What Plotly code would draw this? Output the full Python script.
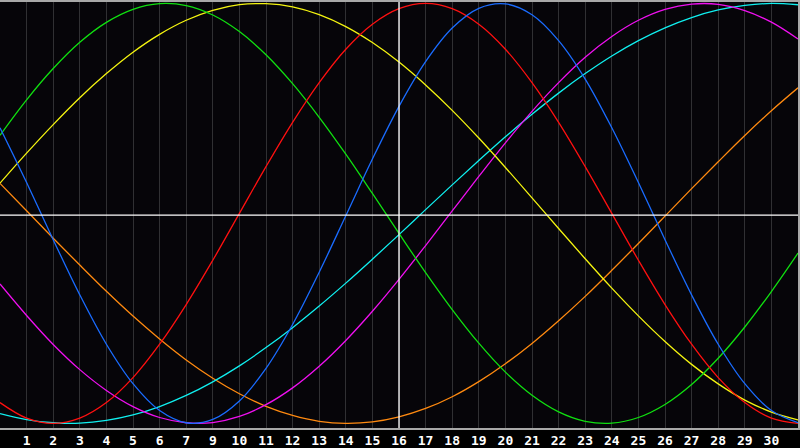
import plotly.graph_objects as go

# Day index along the x axis (0 = left edge, 30 = right edge)
days = list(range(31))

# Tick labels under the day gridlines (note: the source skips "8")
tick_pos = list(range(1, 30))
tick_text = ["1", "2", "3", "4", "5", "6", "7", "9", "10", "11", "12", "13", "14", "15",
             "16", "17", "18", "19", "20", "21", "22", "23", "24", "25", "26", "27", "28",
             "29", "30"]

# Cycle values (-1 .. 1), one per day
physical = [0.408, 0.147, -0.125, -0.388, -0.623, -0.811, -0.939, -0.997, -0.981, -0.893,
            -0.738, -0.529, -0.280, -0.011, 0.259, 0.510, 0.723, 0.883, 0.977, 0.998,
            0.946, 0.823, 0.640, 0.408, 0.147, -0.125, -0.388, -0.623, -0.811, -0.939, -0.997]
emotional = [-0.901, -0.975, -1.000, -0.975, -0.901, -0.782, -0.623, -0.434, -0.223, 0.000,
             0.223, 0.434, 0.623, 0.782, 0.901, 0.975, 1.000, 0.975, 0.901, 0.782,
             0.623, 0.434, 0.223, 0.000, -0.223, -0.434, -0.623, -0.782, -0.901, -0.975, -1.000]
intellectual = [0.372, 0.541, 0.690, 0.815, 0.910, 0.972, 0.999, 0.990, 0.945, 0.866,
                0.756, 0.618, 0.458, 0.282, 0.095, -0.095, -0.282, -0.458, -0.618, -0.756,
                -0.866, -0.945, -0.990, -0.999, -0.972, -0.910, -0.815, -0.690, -0.541, -0.372, -0.189]
intuitive = [-0.336, -0.486, -0.624, -0.744, -0.843, -0.920, -0.972, -0.997, -0.996, -0.967,
             -0.911, -0.831, -0.728, -0.605, -0.466, -0.314, -0.153, 0.012, 0.176, 0.336,
             0.486, 0.623, 0.744, 0.843, 0.920, 0.972, 0.997, 0.996, 0.966, 0.911, 0.831]
aesthetic = [0.144, 0.287, 0.423, 0.551, 0.666, 0.768, 0.853, 0.920, 0.967, 0.994,
             0.999, 0.984, 0.947, 0.890, 0.814, 0.721, 0.612, 0.491, 0.359, 0.219,
             0.074, -0.072, -0.216, -0.356, -0.488, -0.610, -0.719, -0.812, -0.889, -0.946, -0.983]
awareness = [0.143, 0.013, -0.118, -0.246, -0.371, -0.489, -0.598, -0.698, -0.785, -0.859,
             -0.919, -0.962, -0.990, -1.000, -0.993, -0.969, -0.929, -0.873, -0.801, -0.716,
             -0.619, -0.511, -0.395, -0.271, -0.143, -0.013, 0.118, 0.246, 0.371, 0.489, 0.598]
spiritual = [-0.953, -0.982, -0.997, -0.999, -0.986, -0.960, -0.920, -0.867, -0.802, -0.726,
             -0.639, -0.544, -0.441, -0.332, -0.218, -0.101, 0.018, 0.136, 0.252, 0.365,
             0.472, 0.573, 0.666, 0.750, 0.823, 0.884, 0.933, 0.969, 0.991, 1.000, 0.994]

series = [
    ("Awareness", awareness, "#ff8a10"),
    ("Spiritual", spiritual, "#10f0f0"),
    ("Intuitive", intuitive, "#f010f0"),
    ("Aesthetic", aesthetic, "#f5f510"),
    ("Intellectual", intellectual, "#10e010"),
    ("Emotional", emotional, "#ff1010"),
    ("Physical", physical, "#1a6cff"),
]

fig = go.Figure()
for name, vals, col in series:
    fig.add_trace(go.Scatter(x=days, y=vals, name=name, mode="lines",
                             line=dict(color=col, width=1.3, shape="spline", smoothing=1.0),
                             hoverinfo="skip"))

# centre cross-hair (today / zero line)
fig.add_shape(type="line", xref="x", yref="paper", x0=15, x1=15, y0=0, y1=1,
              line=dict(color="white", width=1.3), layer="above")
fig.add_shape(type="line", xref="paper", yref="y", x0=0, x1=1, y0=-0.008, y1=-0.008,
              line=dict(color="white", width=1.3), layer="above")

fig.update_layout(
    width=800, height=448,
    margin=dict(l=0, r=0, t=0, b=20),
    paper_bgcolor="#000000",
    plot_bgcolor="#060509",
    showlegend=False,
    xaxis=dict(range=[0, 30], tickvals=tick_pos, ticktext=tick_text,
               showgrid=True, gridcolor="#303033", gridwidth=1,
               zeroline=False, showline=True, linecolor="#a8a8a8", linewidth=1.5, mirror=True,
               ticks="", ticklabelstandoff=0,
               tickfont=dict(family="DejaVu Sans Mono", size=13, color="white",
                             weight="bold"),
               fixedrange=True),
    yaxis=dict(range=[-1.022, 1.007], showgrid=False, zeroline=False,
               showticklabels=False, showline=True, linecolor="#a8a8a8", linewidth=1.5,
               mirror=True, fixedrange=True),
)

# page body has a default 8px margin; remove it so the chart fills the window
fig.write_html("out.html", config={"displayModeBar": False},
               post_script="document.body.style.margin='0';")
